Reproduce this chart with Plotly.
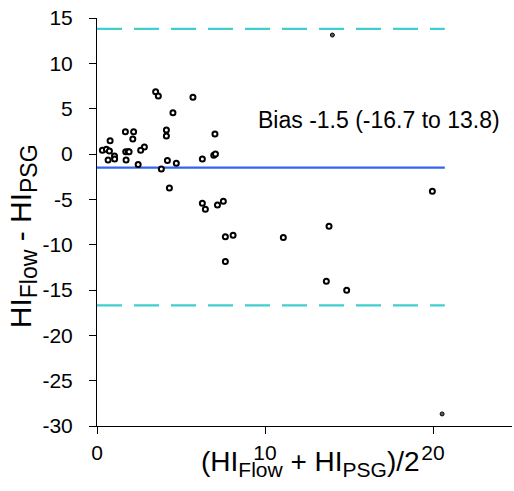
import plotly.graph_objects as go

# Bland-Altman: mean of the two hypopnea indices vs. their difference
mean_hi = [3.49, 3.65, 5.71, 4.52, 1.69, 2.18, 0.78, 2.13, 4.13, 4.13, 7.02, 2.82,
           0.32, 0.56, 0.74, 1.71, 1.85, 1.91, 2.60, 1.04, 1.05, 0.66, 1.73, 2.45,
           4.19, 4.72, 3.83, 6.27, 6.95, 7.05, 4.31, 6.27, 6.45, 7.17, 7.52, 7.64,
           8.10, 7.64, 19.96, 13.81, 11.09, 13.65, 14.86]
diff_hi = [6.87, 6.40, 6.25, 4.55, 2.46, 2.46, 1.45, 1.65, 2.65, 1.98, 2.20, 0.78,
           0.40, 0.52, 0.33, 0.25, 0.25, 0.25, 0.40, -0.22, -0.55, -0.65, -0.65, -1.17,
           -0.73, -1.03, -1.65, -0.55, -0.15, 0.00, -3.75, -5.44, -6.10, -5.62, -5.22, -9.12,
           -8.97, -11.87, -4.12, -7.98, -9.22, -14.04, -15.03]

# two extreme recordings, drawn as small dots
far_mean = [14.01, 20.54]
far_diff = [13.12, -28.67]

bias = -1.5
loa_low = -16.7
loa_high = 13.8
line_x = [0, 20.7]

x_ticks = [0, 10, 20]
y_ticks = [15, 10, 5, 0, -5, -10, -15, -20, -25, -30]

FONT = "Arial, Liberation Sans, sans-serif"
cyan = "rgb(64,206,206)"

fig = go.Figure()

for lim in (loa_high, loa_low):
    fig.add_trace(go.Scatter(x=line_x, y=[lim, lim], mode="lines",
                             line=dict(color=cyan, width=2.2, dash="25px,12px"),
                             hoverinfo="skip"))
fig.add_trace(go.Scatter(x=line_x, y=[bias, bias], mode="lines",
                         line=dict(color="rgb(50,100,240)", width=2.2),
                         hoverinfo="skip"))

fig.add_trace(go.Scatter(x=mean_hi, y=diff_hi, mode="markers",
                         marker=dict(symbol="circle", size=5, color="white",
                                     line=dict(color="black", width=2))))
fig.add_trace(go.Scatter(x=far_mean, y=far_diff, mode="markers",
                         marker=dict(symbol="circle", size=4, color="rgb(90,90,90)",
                                     line=dict(color="black", width=1))))

fig.add_annotation(x=16.8, y=3.75, xref="x", yref="y",
                   text=f"Bias {bias} ({loa_low} to {loa_high})",
                   showarrow=False, font=dict(family=FONT, size=23, color="black"))

sub = "<span style='font-size:{}px'>{}</span>"
fig.add_annotation(x=0.515, y=-0.14, xref="paper", yref="paper",
                   text="(HI<sub>" + sub.format(21, "Flow") + "</sub> + HI<sub>"
                        + sub.format(21, "PSG") + "</sub>)/2",
                   showarrow=False, font=dict(family=FONT, size=28, color="black"))
fig.add_annotation(x=-0.229, y=0.465, xref="paper", yref="paper", textangle=-90,
                   text="HI<sub>" + sub.format(23, "Flow") + "</sub> - HI<sub>"
                        + sub.format(23, "PSG") + "</sub>",
                   showarrow=False, font=dict(family=FONT, size=30, color="black"))

fig.update_layout(
    width=514, height=491,
    margin=dict(l=97, r=2, t=18, b=65),
    paper_bgcolor="white", plot_bgcolor="white",
    showlegend=False,
    font=dict(family=FONT, size=21, color="black"),
    xaxis=dict(range=[0, 24.7], tickvals=x_ticks, ticktext=[str(v) for v in x_ticks],
               ticks="outside", ticklen=7,
               tickcolor="black", showline=True, linecolor="black", linewidth=1,
               showgrid=False, zeroline=False, ticklabelstandoff=1,
               tickfont=dict(family=FONT, size=21, color="black")),
    yaxis=dict(range=[-30, 15], tickvals=y_ticks, ticktext=[str(v) for v in y_ticks],
               ticks="outside", ticklen=7,
               tickcolor="black", showline=True, linecolor="black", linewidth=1,
               showgrid=False, zeroline=False, ticklabelstandoff=12,
               tickfont=dict(family=FONT, size=21, color="black")),
)

fig.write_html("out.html")
